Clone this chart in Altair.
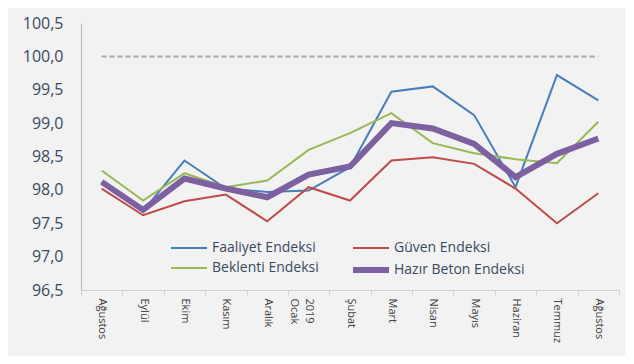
import altair as alt
import pandas as pd
import json

months = ["Ağustos", "Eylül", "Ekim", "Kasım", "Aralık", ["2019", "Ocak"], "Şubat",
          "Mart", "Nisan", "Mayıs", "Haziran", "Temmuz", "Ağustos"]

# legend order (column-major fill: Faaliyet/Beklenti in col 1, Güven/Hazır Beton in col 2)
series_names = ["Faaliyet Endeksi", "Beklenti Endeksi", "Güven Endeksi", "Hazır Beton Endeksi"]

faaliyet = [98.12, 97.68, 98.44, 98.02, 97.97, 97.99, 98.34, 99.47, 99.55, 99.12, 98.04, 99.72, 99.34]
beklenti = [98.29, 97.84, 98.25, 98.04, 98.14, 98.60, 98.85, 99.15, 98.70, 98.55, 98.46, 98.40, 99.02]
guven = [98.02, 97.62, 97.83, 97.93, 97.53, 98.04, 97.84, 98.44, 98.49, 98.39, 98.02, 97.50, 97.95]
hazir_beton = [98.12, 97.70, 98.17, 98.02, 97.89, 98.23, 98.35, 99.00, 98.92, 98.69, 98.19, 98.54, 98.77]

reference_level = 100.0
y_ticks = [96.5, 97.0, 97.5, 98.0, 98.5, 99.0, 99.5, 100.0, 100.5]

colors = ["#4A7EBB", "#98B954", "#BE4B48", "#7D60A0"]
widths = [2, 2, 2, 6]

rows = []
for rank, (name, vals) in enumerate(zip(series_names, [faaliyet, beklenti, guven, hazir_beton])):
    for i, v in enumerate(vals):
        rows.append({"idx": i, "series": name, "value": v, "rank": rank})
df = pd.DataFrame(rows)
ref_df = pd.DataFrame({"idx": list(range(len(months))), "value": [reference_level] * len(months)})

label_expr = json.dumps(months, ensure_ascii=False) + "[datum.value]"

FONT = "Open Sans"

x_enc = alt.X(
    "idx:O",
    scale=alt.Scale(type="band", paddingInner=0, paddingOuter=0),
    axis=alt.Axis(
        title=None, labelAngle=90, labelExpr=label_expr, tickBand="extent",
        domainColor="#D0D0D0", tickColor="#D0D0D0", tickSize=5, labelPadding=3,
        labelFontSize=11, labelFont=FONT, labelColor="#404040", labelLineHeight=15,
        grid=False,
    ),
)
y_scale = alt.Scale(domain=[96.5, 100.5], nice=False, zero=False)
y_axis = alt.Axis(
    title=None, values=y_ticks, ticks=False, grid=False, labelPadding=18,
    labelExpr="replace(format(datum.value, '.1f'), '.', ',')",
    labelFontSize=16, labelFont=FONT, labelColor="#3A4A5E", domainColor="#A7B8C9",
)

legend_opts = dict(
    title=None, orient="none", legendX=96, legendY=215, columns=2,
    symbolType="M-2,0H2", symbolSize=324, columnPadding=22, rowPadding=3,
    labelFontSize=14, labelFont=FONT, labelColor="#3A4A5E", labelOffset=11, padding=0,
)

ref_line = alt.Chart(ref_df).mark_line(color="#A6A6A6", strokeWidth=2, strokeDash=[5, 3]).encode(
    x=x_enc, y=alt.Y("value:Q", scale=y_scale, axis=y_axis)
)

lines = alt.Chart(df).mark_line().encode(
    x=x_enc,
    y=alt.Y("value:Q", scale=y_scale, axis=y_axis),
    color=alt.Color(
        "series:N",
        scale=alt.Scale(domain=series_names, range=colors),
        legend=alt.Legend(**legend_opts),
    ),
    strokeWidth=alt.StrokeWidth(
        "series:N",
        scale=alt.Scale(type="ordinal", domain=series_names, range=widths),
        legend=alt.Legend(**legend_opts),
    ),
    order=alt.Order("rank:Q"),
)

chart = alt.layer(ref_line, lines).properties(
    width=538, height=267,
    autosize=alt.AutoSizeParams(type="none"),
    padding={"left": 73, "top": 15, "right": 6, "bottom": 66},
    background="#F2F2F2",
).configure_view(stroke=None)

chart.save("out.html", embed_options={"renderer": "svg", "actions": False})
